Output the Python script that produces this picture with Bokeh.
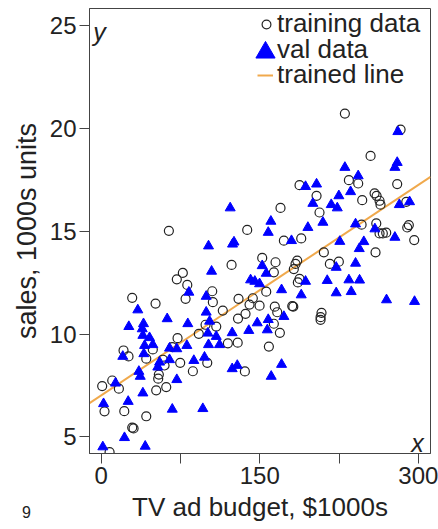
from bokeh.plotting import figure
from bokeh.layouts import column
from bokeh.models import FixedTicker, Legend, LegendItem, Label, Range1d, Div
from bokeh.embed import file_html
from bokeh.resources import INLINE

# ---- data ----
train_tv = [51.4, 105.6, 115.0, 129.4, 108.8, 98.7, 92.3, 72.2, 119.8, 129.1,
            21.1, 25.8, 48.8, 42.6, 58.3, 67.2, 74.7, 100.3, 86.7, 59.9,
            54.5, 53.9, 0.9, 10.4, 16.7, 52.0, 61.5, 3.1, 21.8, 42.6,
            29.3, 30.6, 7.9, 64.0, 77.2, 71.5, 81.4, 123.3, 105.0, 29.3,
            79.8, 129.9, 169.6, 206.5, 138.1, 172.8, 189.2, 210.6, 216.3, 224.8,
            152.3, 164.9, 163.3, 185.4, 183.8, 182.2, 187.6, 186.0, 156.1, 143.4,
            140.3, 149.8, 164.2, 166.5, 180.7, 181.7, 136.5, 208.4, 207.5, 207.5,
            163.3, 169.0, 158.6, 135.9, 230.5, 283.2, 254.8, 187.6, 203.7, 234.3,
            243.1, 280.0, 258.6, 260.5, 246.9, 263.3, 264.2, 288.6, 260.2, 246.3,
            263.3, 266.4, 269.6, 289.5, 291.0, 296.1, 259.5]
train_sales = [11.48, 11.55, 11.14, 10.75, 10.36, 10.45, 10.01, 9.80, 9.55, 9.58,
               9.20, 8.91, 9.25, 8.80, 8.75, 9.36, 8.60, 8.60, 8.19, 8.47,
               8.03, 7.83, 7.47, 7.74, 7.34, 7.26, 7.42, 6.24, 6.25, 6.00,
               5.45, 5.41, 4.26, 15.02, 12.97, 12.66, 12.39, 13.36, 12.08, 11.76,
               11.71, 11.71, 16.13, 15.91, 15.06, 14.54, 14.65, 13.97, 13.41, 13.52,
               13.70, 13.49, 13.00, 13.57, 13.41, 13.16, 12.68, 12.51, 12.06, 11.74,
               11.43, 11.38, 11.33, 11.06, 11.36, 11.33, 10.98, 11.03, 10.82, 10.69,
               10.50, 10.06, 9.39, 8.18, 20.72, 19.94, 18.66, 17.24, 16.72, 17.48,
               17.32, 17.29, 16.84, 16.72, 16.51, 16.48, 16.29, 16.43, 15.38, 15.32,
               14.89, 14.89, 14.93, 15.18, 15.30, 14.57, 13.97]

val_tv = [34.6, 62.4, 26.1, 40.0, 38.8, 39.4, 45.7, 48.8, 41.0, 40.3,
          20.4, 64.6, 71.5, 81.0, 81.9, 99.3, 102.5, 100.9, 108.8, 101.5,
          111.9, 123.9, 87.6, 97.7, 64.6, 55.2, 53.5, 35.6, 36.9, 13.5,
          71.5, 39.4, 2.2, 25.5, 67.2, 96.1, 123.9, 128.7, 22.0, 1.5,
          41.6, 122.0, 101.5, 124.2, 125.6, 104.4, 82.9, 99.3, 200.2, 217.6,
          223.3, 160.5, 158.0, 195.5, 209.7, 180.0, 240.6, 225.7, 244.1, 152.3,
          156.1, 141.3, 145.3, 149.8, 222.3, 240.6, 170.6, 193.3, 189.2, 213.8,
          222.3, 234.3, 236.5, 244.4, 172.8, 158.0, 147.6, 139.6, 157.1, 170.6,
          160.8, 280.6, 280.0, 277.8, 230.5, 243.1, 193.3, 203.7, 224.8, 235.9,
          282.0, 291.7, 258.9, 277.8, 248.4, 269.9, 296.4]
val_sales = [11.17, 10.74, 10.36, 10.50, 10.25, 9.93, 9.82, 9.48, 9.44, 9.04,
             8.91, 9.31, 9.28, 9.44, 10.50, 11.06, 10.62, 10.04, 9.88, 9.48,
             9.48, 10.06, 8.71, 8.87, 8.75, 8.63, 8.39, 8.18, 7.94, 7.61,
             7.78, 7.13, 6.61, 6.72, 6.34, 6.37, 8.31, 8.47, 4.96, 4.51,
             4.54, 16.13, 14.28, 14.37, 14.47, 13.05, 12.03, 11.83, 16.35, 16.29,
             16.13, 15.48, 14.94, 15.18, 15.43, 14.54, 15.35, 14.50, 14.15, 13.32,
             12.95, 12.63, 12.56, 12.44, 13.24, 13.44, 12.15, 12.56, 11.90, 12.60,
             12.00, 12.63, 12.06, 12.62, 10.85, 10.70, 10.54, 10.17, 10.20, 8.52,
             7.94, 19.84, 18.34, 18.10, 18.10, 17.69, 17.17, 17.29, 16.72, 16.92,
             16.29, 16.43, 15.11, 14.70, 14.49, 11.66, 11.58]

line_intercept = 7.02
line_slope = 0.0341

x_ticks = [0, 75, 150, 225, 300]
x_tick_labels = ["0", "", "150", "", "300"]
y_ticks = [5, 10, 15, 20, 25]

x_min, x_max = -11.1, 311.5
y_min, y_max = 4.19, 25.83

FONT = "Liberation Sans"
TXT = "#222222"
AX = "#444444"

p = figure(output_backend="svg", toolbar_location=None,
           frame_width=341, frame_height=445,
           min_border_left=89, min_border_right=8, min_border_top=8, min_border_bottom=76,
           x_range=Range1d(x_min, x_max), y_range=Range1d(y_min, y_max))
p.grid.visible = False
p.outline_line_color = AX
p.outline_line_width = 1
p.background_fill_color = "white"
p.border_fill_color = "white"

line_x = [x_min, x_max]
line_y = [line_intercept + line_slope * v for v in line_x]
r_line = p.line(line_x, line_y, line_color="#f0a94c", line_width=2)
r_train = p.scatter(train_tv, train_sales, marker="circle", size=9,
                    fill_color=None, line_color="#222222", line_width=1.2)
r_val = p.scatter(val_tv, val_sales, marker="triangle", size=10,
                  fill_color="#0000ff", line_color="#0000ff", line_width=1)

for ax in (p.xaxis[0], p.yaxis[0]):
    ax.axis_line_color = AX
    ax.major_tick_line_color = AX
    ax.major_tick_out = 10
    ax.major_tick_in = 0
    ax.minor_tick_out = 0
    ax.minor_tick_in = 0
    ax.major_label_text_font = FONT
    ax.major_label_text_font_size = "24px"
    ax.major_label_text_color = TXT
    ax.axis_label_text_font = FONT
    ax.axis_label_text_font_size = "26px"
    ax.axis_label_text_font_style = "normal"
    ax.axis_label_text_color = TXT
    ax.major_label_standoff = 3

p.yaxis.axis_label_text_font_size = "27px"
p.xaxis.ticker = FixedTicker(ticks=x_ticks)
p.xaxis.major_label_overrides = {t: l for t, l in zip(x_ticks, x_tick_labels)}
p.yaxis.ticker = FixedTicker(ticks=y_ticks)
p.xaxis.axis_label = "TV ad budget, $1000s"
p.yaxis.axis_label = "sales, 1000s units"
p.xaxis.axis_label_standoff = 5
p.yaxis.axis_label_standoff = 5


def make_legend(label, rend, gw, gh, standoff, loc, fs="26px"):
    leg = Legend(items=[LegendItem(label=label, renderers=[rend])],
                 location=loc, glyph_width=gw, glyph_height=gh, label_height=gh,
                 label_standoff=standoff, padding=0, margin=0, spacing=0,
                 border_line_color=None, background_fill_alpha=0,
                 label_text_font=FONT, label_text_font_size=fs,
                 label_text_color=TXT)
    p.add_layout(leg)


make_legend("training data", r_train, 22, 30, 0, (166, 414))
make_legend(" ", r_val, 48, 48, 0, (152, 377), fs="1px")   # big triangle key
make_legend("val data", r_val, 0, 30, 0, (188, 388))        # its text
make_legend("trained line", r_line, 16, 30, 4, (168, 363))

p.add_layout(Label(x=-7.5, y=24.68, text="y", text_font=FONT, text_font_size="25px",
                   text_font_style="italic", text_color=TXT, text_baseline="alphabetic"))
p.add_layout(Label(x=305.2, y=4.70, text="x", text_font=FONT, text_font_size="25px",
                   text_font_style="italic", text_color=TXT, text_align="right",
                   text_baseline="alphabetic"))

note = Div(text="9", margin=(-25, 0, 0, 22),
           styles={"font-family": FONT, "font-size": "16px", "color": TXT,
                   "line-height": "18px"})

open("out.html", "w").write(file_html(column(p, note, spacing=0), INLINE))
